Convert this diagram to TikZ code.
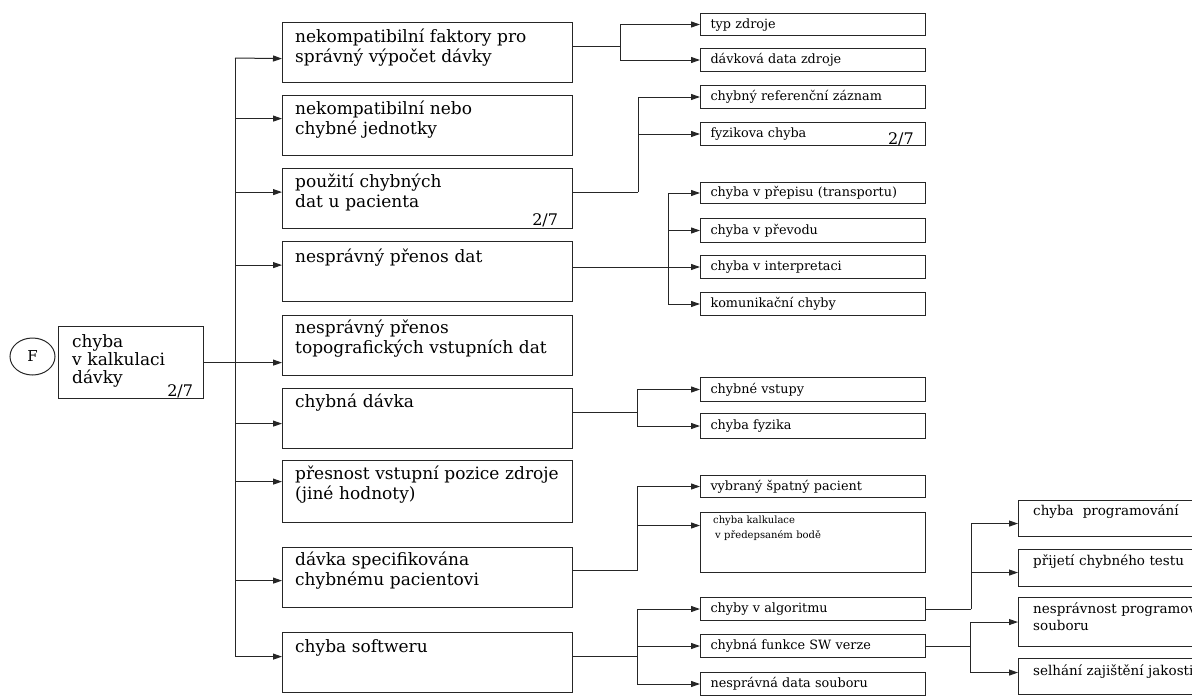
\documentclass[tikz,border=0pt]{standalone}
\usepackage{fontspec}
\setmainfont{DejaVu Serif}
\usetikzlibrary{arrows.meta,shapes.geometric}
\begin{document}
\begin{tikzpicture}[x=1pt,y=-1pt,
  frame/.style={draw=black!85, line width=1.2pt, anchor=north west, inner sep=0pt},
  mbox/.style={frame, minimum width=290pt, minimum height=60pt},
  mtext/.style={anchor=base west, inner sep=0pt, text width=275pt, align=left,
                font=\fontsize{17}{20}\selectfont},
  rframe/.style={frame, line width=1pt, minimum width=225pt},
  rbox/.style={rframe, inner xsep=10pt, inner ysep=0pt, text width=205pt, align=left,
               text height=9.5pt, text depth=2pt, font=\fontsize{12.8}{15}\selectfont},
  fframe/.style={frame, line width=1.1pt, minimum width=200pt},
  ftext/.style={anchor=base west, inner sep=0pt, text width=300pt, align=left,
                font=\fontsize{13.5}{17}\selectfont},
  frac/.style={anchor=base east, inner sep=0pt, font=\fontsize{16}{16}\selectfont},
  wire/.style={draw=black!85, line width=1pt},
  arr/.style={wire, -{Triangle[length=9pt,width=6pt]}}]

\useasboundingbox (0,0) rectangle (1192,696);
\clip (0,0) rectangle (1192,696);

% root
\node[draw=black!85, line width=1pt, ellipse, minimum width=45pt, minimum height=37pt,
      inner sep=0pt, font=\fontsize{15}{15}\selectfont] (F) at (32.5,356.5) {F};
\node[frame, minimum width=145pt, minimum height=72pt] (L) at (58,326) {};
\node[anchor=base west, inner sep=0pt, text width=130pt, align=left,
      font=\fontsize{17}{18}\selectfont] (Lt) at ([shift={(14pt,-21pt)}]L.north west)
      {chyba\\v kalkulaci\\dávky};
\node[frac] (Lf) at ([shift={(-11pt,3pt)}]L.south east) {2/7};

% first level
\node[mbox] (b1) at (282,22) {};
\node[mbox] (b2) at (282,95) {};
\node[mbox] (b3) at (282,168) {};
\node[mbox] (b4) at (282,241) {};
\node[mbox] (b5) at (282,315) {};
\node[mbox] (b6) at (282,388) {};
\node[mbox, minimum height=62pt] (b7) at (282,460) {};
\node[mbox] (b8) at (282,547) {};
\node[mbox] (b9) at (282,632) {};

\node[mtext] (b1t) at ([shift={(13pt,-20pt)}]b1.north west) {nekompatibilní faktory pro\\správný výpočet dávky};
\node[mtext] (b2t) at ([shift={(13pt,-19pt)}]b2.north west) {nekompatibilní nebo\\chybné jednotky};
\node[mtext] (b3t) at ([shift={(13pt,-19pt)}]b3.north west) {použití chybných\\dat u pacienta};
\node[frac] (b3f) at ([shift={(-15pt,4pt)}]b3.south east) {2/7};
\node[mtext] (b4t) at ([shift={(13pt,-21pt)}]b4.north west) {nesprávný přenos dat};
\node[mtext] (b5t) at ([shift={(13pt,-18pt)}]b5.north west) {nesprávný přenos\\topografických vstupních dat};
\node[mtext] (b6t) at ([shift={(13pt,-19pt)}]b6.north west) {chybná dávka};
\node[mtext] (b7t) at ([shift={(13pt,-19pt)}]b7.north west) {přesnost vstupní pozice zdroje\\(jiné hodnoty)};
\node[mtext] (b8t) at ([shift={(13pt,-18pt)}]b8.north west) {dávka specifikována\\chybnému pacientovi};
\node[mtext] (b9t) at ([shift={(13pt,-20pt)}]b9.north west) {chyba softweru};

% second level
\node[rbox, minimum height=22pt] (r1) at (700,13) {typ zdroje};
\node[rbox, minimum height=23pt] (r2) at (700,48) {dávková data zdroje};
\node[rbox, minimum height=23pt] (r3) at (700,85) {chybný referenční záznam};
\node[rbox, minimum height=23pt] (r4) at (700,122) {fyzikova chyba};
\node[frac] (r4f) at ([shift={(-12pt,2pt)}]r4.south east) {2/7};
\node[rbox, minimum height=21pt] (r5) at (700,182) {chyba v přepisu (transportu)};
\node[rbox, minimum height=24pt] (r6) at (700,218) {chyba v převodu};
\node[rbox, minimum height=23pt] (r7) at (700,255) {chyba v interpretaci};
\node[rbox, minimum height=23pt] (r8) at (700,292) {komunikační chyby};
\node[rbox, minimum height=24pt] (r9) at (700,377) {chybné vstupy};
\node[rbox, minimum height=25pt] (r10) at (700,413) {chyba fyzika};
\node[rbox, minimum height=22pt] (r11) at (700,475) {vybraný špatný pacient};
\node[rframe, minimum height=60pt] (r12) at (700,512) {};
\node[anchor=base west, inner sep=0pt, text width=200pt, align=left,
      font=\fontsize{10}{15}\selectfont] (r12t) at ([shift={(13pt,-11pt)}]r12.north west)
      {chyba kalkulace\\\hspace*{2pt}v předepsaném bodě};
\node[rbox, minimum height=23pt] (r13) at (700,597) {chyby v algoritmu};
\node[rbox, minimum height=23pt] (r14) at (700,634) {chybná funkce SW verze};
\node[rbox, minimum height=23pt] (r15) at (700,672) {nesprávná data souboru};

% third level (runs past the right edge of the page)
\node[fframe, minimum height=36pt] (f1) at (1018,500) {};
\node[fframe, minimum height=37pt] (f2) at (1018,549) {};
\node[fframe, minimum height=49pt] (f3) at (1018,597) {};
\node[fframe, minimum height=36pt] (f4) at (1018,658) {};
\node[ftext] (f1t) at ([shift={(15pt,-15pt)}]f1.north west) {chyba\ \ programování};
\node[ftext] (f2t) at ([shift={(15pt,-16pt)}]f2.north west) {přijetí chybného testu};
\node[ftext] (f3t) at ([shift={(15pt,-16pt)}]f3.north west) {nesprávnost programového\\souboru};
\node[ftext] (f4t) at ([shift={(15pt,-17pt)}]f4.north west) {selhání zajištění jakosti};

% trunk from the root box
\coordinate (T) at (235,58);
\draw[arr] (L.east) -- (L.east -| b5.west);
\draw[arr] (T) -- ([yshift=-6pt]b1.west);
\draw[arr] (T) |- ([yshift=7pt]b2.west);
\draw[arr] (T) |- ([yshift=6.5pt]b3.west);
\draw[arr] (T) |- ([yshift=6.5pt]b4.west);
\draw[arr] (T) |- ([yshift=-5pt]b6.west);
\draw[arr] (T) |- ([yshift=10pt]b7.west);
\draw[arr] (T) |- ([yshift=-3pt]b8.west);
\draw[arr] (T) |- ([yshift=6pt]b9.west);

% branches to the second level
\draw[wire] ([yshift=6pt]b1.east) -- ++(47,0) coordinate (J1);
\draw[arr] (J1) |- (r1.west);
\draw[arr] (J1) |- (r2.west);

\draw[wire] ([yshift=6.5pt]b3.east) -- ++(65,0) coordinate (J3);
\draw[arr] (J3) |- (r3.west);
\draw[arr] (J3) |- (r4.west);

\draw[arr] (b4.east |- r7.west) -- (r7.west);
\path (r7.west) ++(-32,0) coordinate (J4);
\draw[arr] (J4) |- (r5.west);
\draw[arr] (J4) |- (r6.west);
\draw[arr] (J4) |- (r8.west);

\draw[wire] ([yshift=6pt]b6.east) -- ++(64,0) coordinate (J6);
\draw[arr] (J6) |- (r9.west);
\draw[arr] (J6) |- (r10.west);

\draw[wire] ([yshift=7pt]b8.east) -- ++(64,0) coordinate (J8);
\draw[arr] (J8) |- (r11.west);
\draw[arr] (J8) |- ([yshift=17pt]r12.west);

\draw[wire] ([yshift=6pt]b9.east) -- ++(64,0) coordinate (J9);
\draw[arr] (J9) |- (r13.west);
\draw[arr] (J9) |- (r14.west);
\draw[arr] (J9) |- (r15.west);

% branches to the third level
\draw[wire] (r13.east) -- ++(45,0) coordinate (K1);
\draw[arr] (K1) |- ([yshift=-5pt]f1.west);
\draw[arr] (K1) |- ([yshift=-4.5pt]f2.west);

\draw[wire] (r14.east) -- ++(44,0) coordinate (K2);
\draw[arr] (K2) |- (f3.west);
\draw[arr] (K2) |- ([yshift=4pt]f4.west);
\end{tikzpicture}
\end{document}
